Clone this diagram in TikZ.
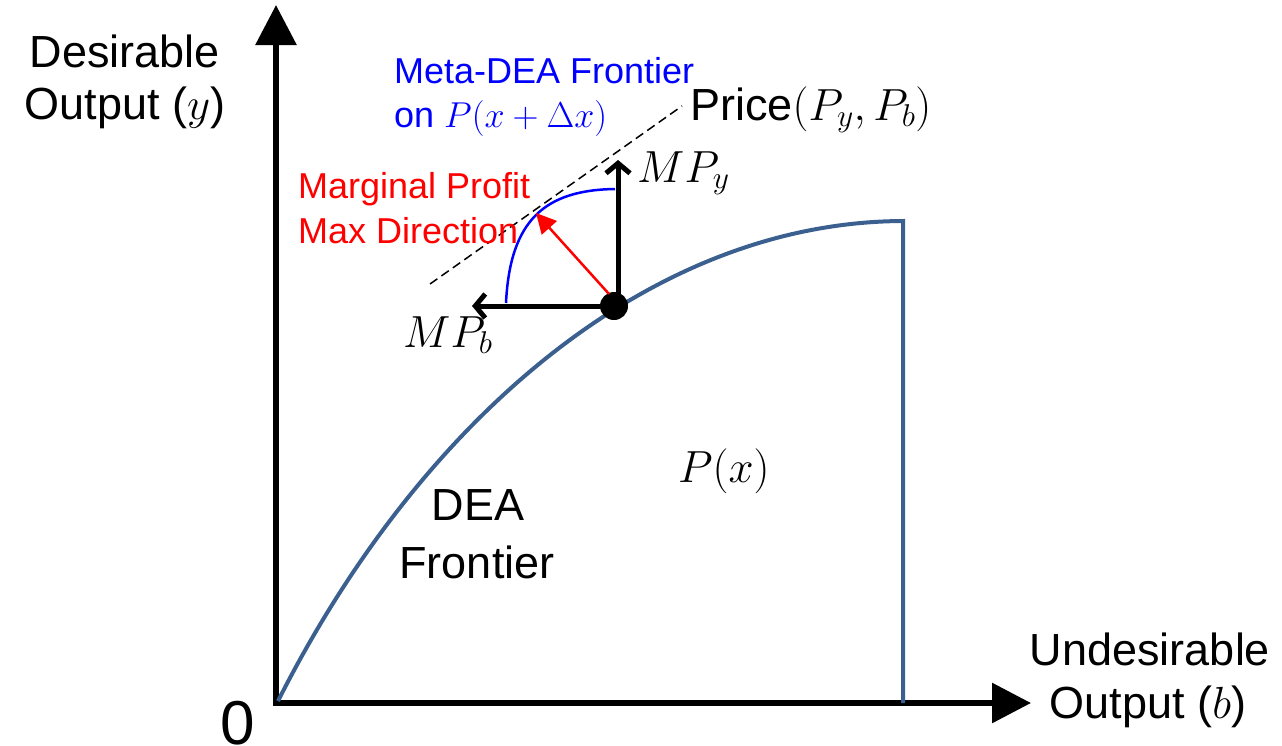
\RequirePackage{fix-cm}
\documentclass[tikz,border=0pt]{standalone}
\usepackage{fontspec}
\setmainfont{Liberation Sans}
\usetikzlibrary{arrows.meta}
\definecolor{frontblue}{RGB}{59,96,143}
\definecolor{metablue}{RGB}{0,0,255}
\definecolor{mred}{RGB}{255,0,0}
\tikzset{
  axis/.style={line width=6pt, draw=black, miter limit=10},
  frontier/.style={line width=4pt, draw=frontblue},
  metafront/.style={line width=2.5pt, draw=metablue},
  mparrow/.style={line width=5pt, -{Straight Barb[length=10pt,width=24pt,line width=5pt]}},
  redarrow/.style={line width=2.5pt, draw=mred, -{Triangle[length=20pt,width=20pt]}, fill=mred},
  pricedash/.style={line width=1.5pt, dash pattern=on 9pt off 5pt},
  bigtxt/.style={inner sep=0pt, font=\fontsize{45}{52}\selectfont},
  bluetxt/.style={inner sep=0pt, text=metablue, font=\fontsize{36}{44}\selectfont},
  redtxt/.style={inner sep=0pt, text=mred, font=\fontsize{36}{44}\selectfont},
}
\begin{document}
\begin{tikzpicture}[x=1pt,y=-1pt]
\useasboundingbox (0,0) rectangle (1282,745);
% coordinates
\coordinate (ytip) at (276,5);
\coordinate (o) at (276,703);
\coordinate (xtip) at (1031,703);
\coordinate (fstart) at (278,701);
\coordinate (fend) at (903,221);
\coordinate (fbase) at (903,703);
\coordinate (mpy) at (618,160);
\coordinate (mpb) at (472,306);
\coordinate (mstart) at (506,303);
\coordinate (tang) at (536,213);
\coordinate (mend) at (615,189);
\coordinate (dA) at (430,284);
\coordinate (dB) at (682,106);
% axes
\draw[axis, {Triangle[length=40pt,width=40pt]}-{Triangle[length=39pt,width=39pt]}] (ytip) -- (o) -- (xtip);
% DEA frontier
\draw[frontier] (fstart) .. controls (420,420) and (650,222) .. (fend) -- (fbase);
% price line
\draw[pricedash] (dA) -- (dB);
% meta frontier
\draw[metafront] (mstart) .. controls (510,220) and (545,190) .. (mend);
% dot
\node[circle, fill=black, inner sep=0pt, minimum size=28pt] (dot) at (614,306) {};
% MP arrows
\draw[mparrow] (dot.center) ++(4,0) -- (mpy);
\draw[mparrow] (dot.center) -- (mpb);
% red arrow
\draw[redarrow] (dot.center) ++(-5,-12) -- (tang);
% texts
\node[bigtxt, anchor=base] (t1) at (125,67) {Desirable};
\node[bigtxt, anchor=base] (t2) at (125,119) {Output ($y$)};
\node[bluetxt, anchor=base west] (m1) at (394,83) {Meta-DEA Frontier};
\node[bluetxt, anchor=base west] (m2) at (394,127) {on $P(x+\Delta x)$};
\node[bigtxt, anchor=base west] (pr) at (690,120) {Price$(P_y,P_b)$};
\node[bigtxt, anchor=base west] (lmpy) at (637,182) {$MP_y$};
\node[bigtxt, anchor=base west] (lmpb) at (403,347) {$MP_b$};
\node[redtxt, anchor=base west] (r1) at (298,198) {Marginal Profit};
\node[redtxt, anchor=base west] (r2) at (298,243) {Max Direction};
\node[bigtxt, anchor=base west] (px) at (678,482) {$P(x)$};
\node[bigtxt, anchor=base] (d1) at (478,520) {DEA};
\node[bigtxt, anchor=base] (d2) at (477,578) {Frontier};
\node[bigtxt, anchor=base] (u1) at (1150,665) {Undesirable};
\node[bigtxt, anchor=base] (u2) at (1148,718) {Output ($b$)};
\node[inner sep=0pt, anchor=base, font=\fontsize{62}{70}\selectfont] (zero) at (238,744) {0};
\end{tikzpicture}
\end{document}
